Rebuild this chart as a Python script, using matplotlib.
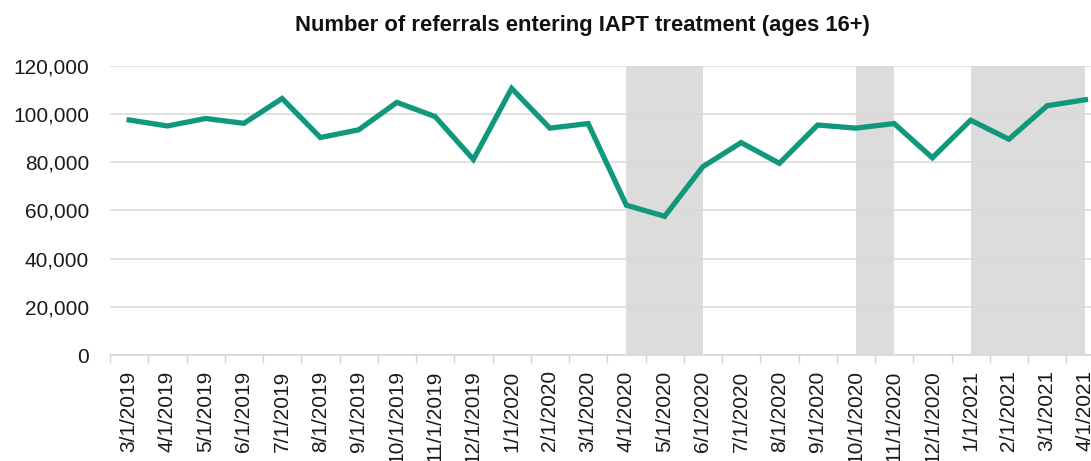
import matplotlib
matplotlib.use("Agg")
import matplotlib.pyplot as plt
import numpy as np

# Monthly referrals entering IAPT treatment
months = ["3/1/2019", "4/1/2019", "5/1/2019", "6/1/2019", "7/1/2019", "8/1/2019",
          "9/1/2019", "10/1/2019", "11/1/2019", "12/1/2019", "1/1/2020", "2/1/2020",
          "3/1/2020", "4/1/2020", "5/1/2020", "6/1/2020", "7/1/2020", "8/1/2020",
          "9/1/2020", "10/1/2020", "11/1/2020", "12/1/2020", "1/1/2021", "2/1/2021",
          "3/1/2021", "4/1/2021"]
referrals = [97600, 95100, 98200, 96200, 106500, 90300,
             93500, 104900, 99000, 81200, 110700, 94200,
             96100, 62200, 57600, 78200, 88200, 79600,
             95500, 94200, 96100, 81900, 97500, 89600,
             103500, 106000]

# Lockdown periods (start month, end month)
lockdowns = [("4/1/2020", "6/1/2020"), ("10/1/2020", "11/1/2020"), ("1/1/2021", "4/1/2021")]

yticks = [0, 20000, 40000, 60000, 80000, 100000, 120000]

plt.rcParams["font.family"] = ["Liberation Sans", "DejaVu Sans"]

W, H = 1091, 461
fig = plt.figure(figsize=(W / 100, H / 100), dpi=100)
left, bottom_px, top_px, cat_w = 110, 355, 66, 38.25
ax = fig.add_axes([left / W, (H - bottom_px) / H, len(months) * cat_w / W,
                   (bottom_px - top_px) / H])

x = np.arange(len(months))
idx = {m: i for i, m in enumerate(months)}

for a, b in lockdowns:
    ax.axvspan(idx[a], idx[b], color="#DCDCDC", lw=0, zorder=0)

ax.plot(x, referrals, color="#11987C", lw=3.8, solid_joinstyle="miter", zorder=3)

ax.set_xlim(-0.5, len(months) - 0.5)
ax.set_ylim(0, 120000)
ax.set_yticks(yticks)
ax.set_yticklabels([f"{v:,}" for v in yticks])
ax.yaxis.grid(True, color="#D9D9D9", lw=1.1, zorder=1)
ax.set_axisbelow(True)

ax.set_xticks(np.arange(-0.5, len(months)), minor=False)
ax.set_xticklabels([], minor=False)
ax.set_xticks(x, minor=True)
ax.set_xticklabels(months, minor=True, rotation=90, fontsize=15, color="#1a1a1a")
ax.tick_params(axis="x", which="major", length=5.5, width=1, color="#D6D6D6")
ax.tick_params(axis="x", which="minor", length=0, pad=11)
ax.tick_params(axis="y", length=0, pad=15, labelsize=15, labelcolor="#1a1a1a")

for s in ["top", "right", "left"]:
    ax.spines[s].set_visible(False)
ax.spines["bottom"].set_color("#D6D6D6")
ax.spines["bottom"].set_linewidth(1.1)

fig.text(582 / W, 1 - 25 / H, "Number of referrals entering IAPT treatment (ages 16+)",
         ha="center", va="center", fontsize=15.8, fontweight="bold", color="#111111")

fig.savefig("out.png", dpi=100)
